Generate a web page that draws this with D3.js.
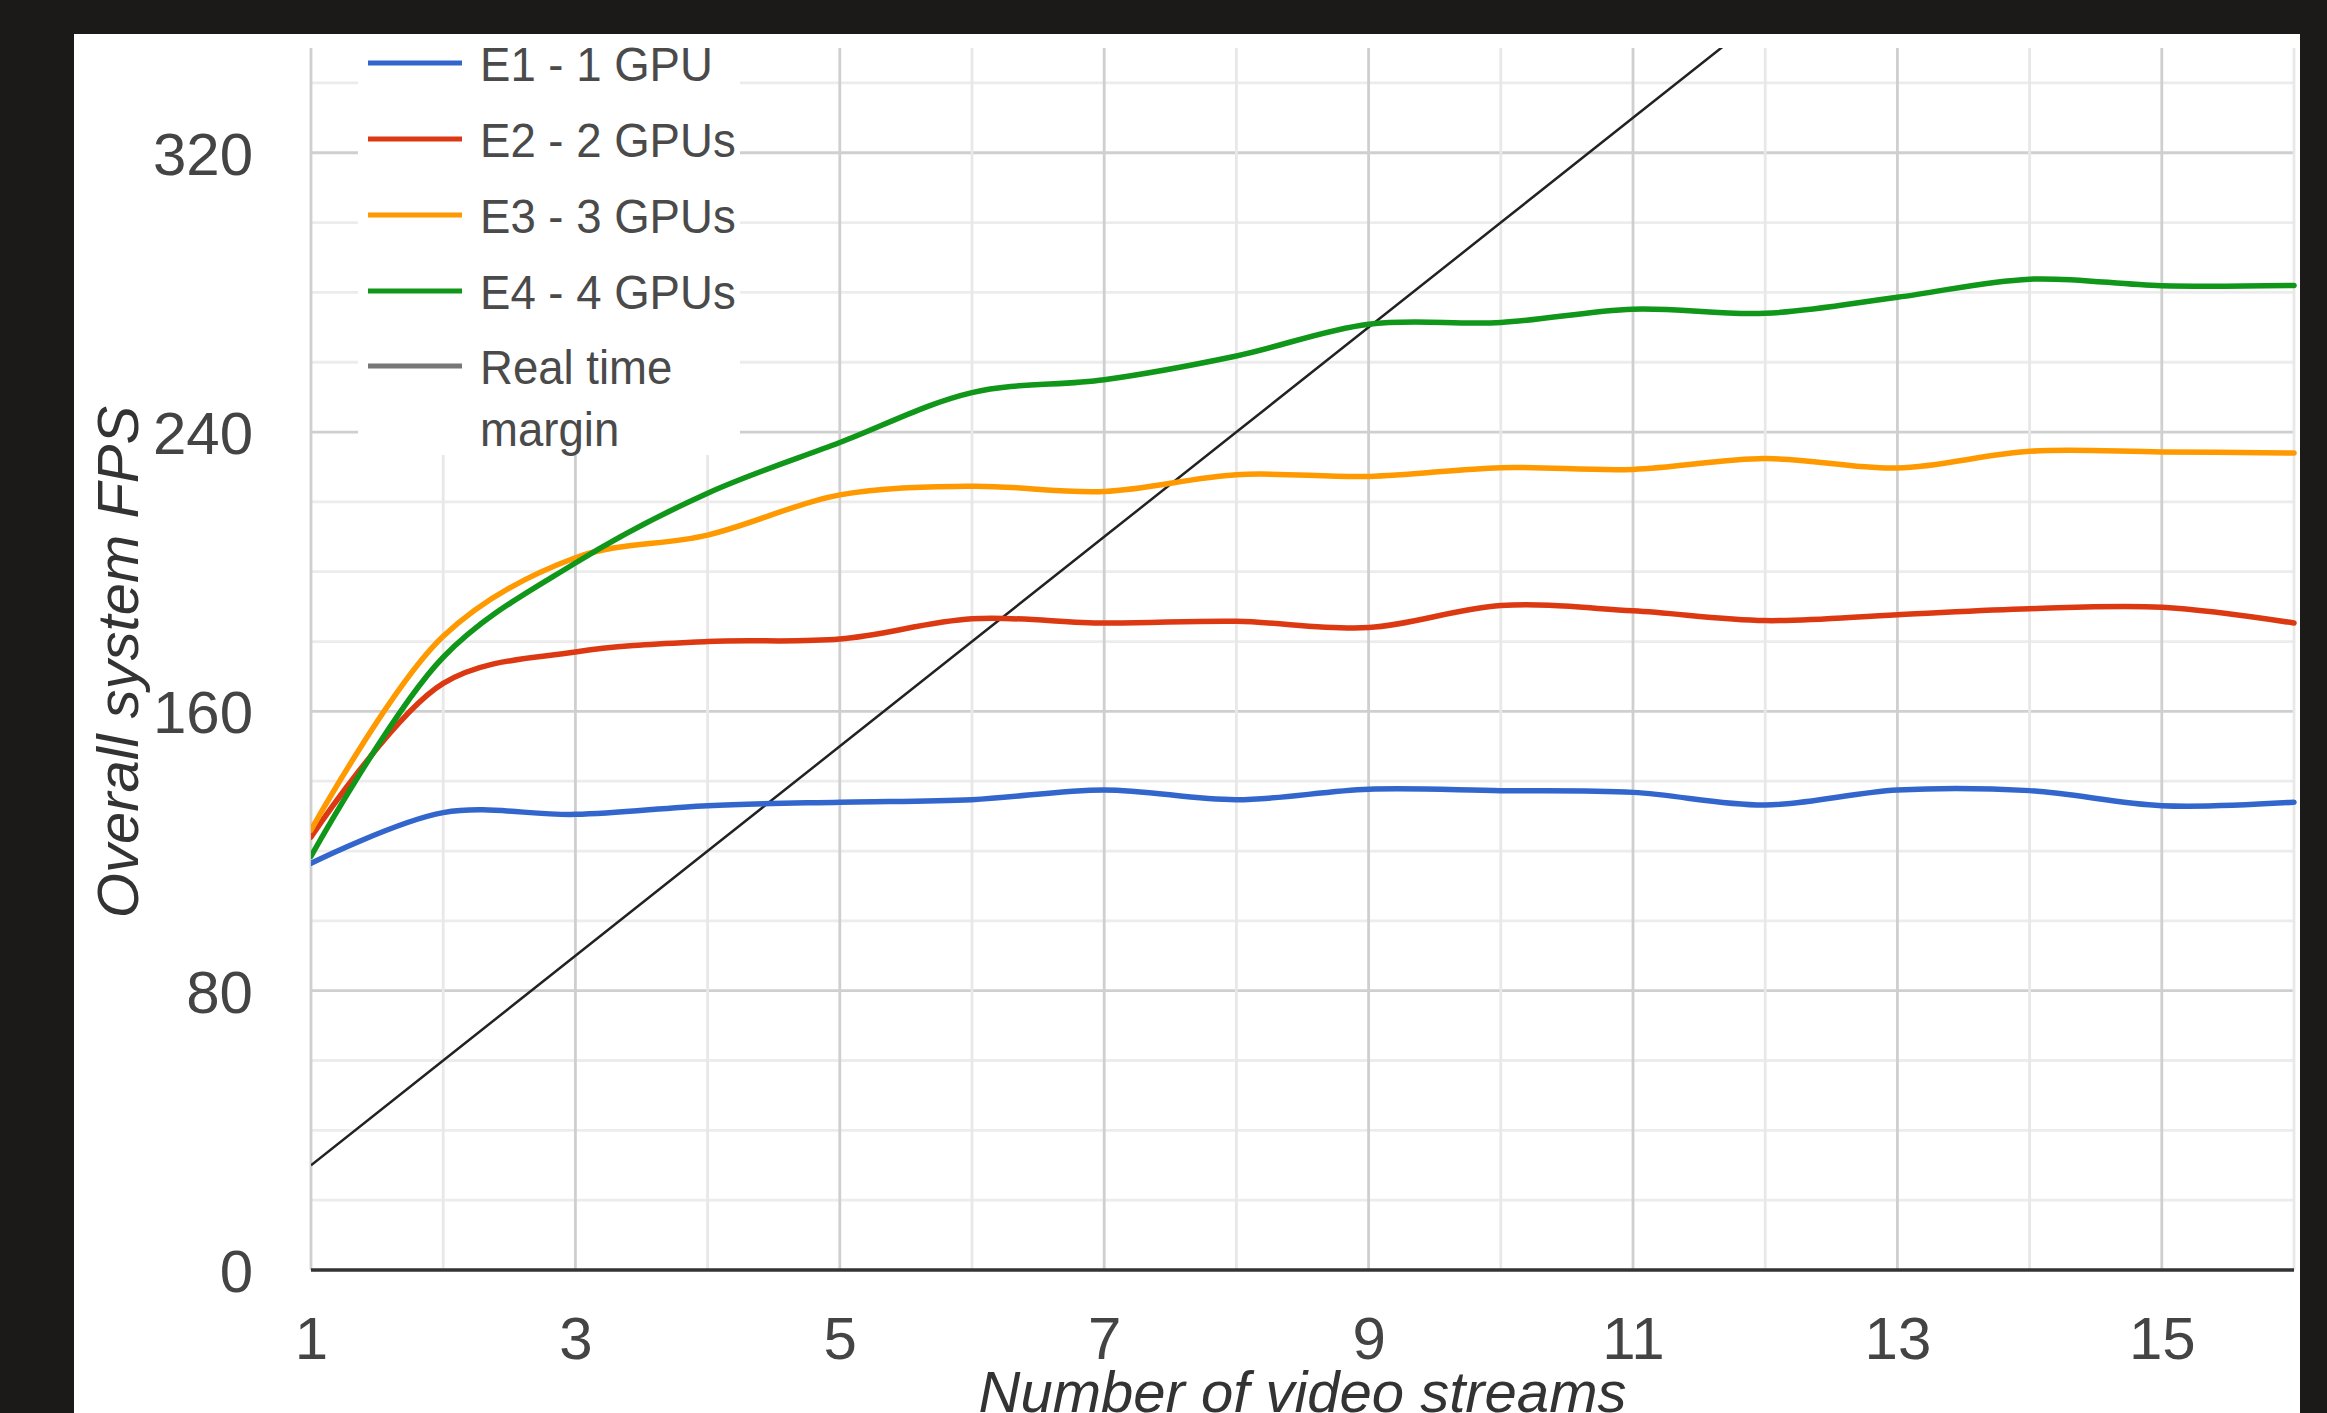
<!DOCTYPE html>
<html>
<head>
<meta charset="utf-8">
<script src="https://cdn.jsdelivr.net/npm/d3@7"></script>
<style>
  html, body { margin: 0; padding: 0; background: #1c1a19; }
  svg { display: block; }
  text { font-family: "Liberation Sans", Arial, sans-serif; }
</style>
</head>
<body>
<svg id="chart" width="2327" height="1413"></svg>
<script>
// ---- data ----
const streams = [1, 2, 3, 4, 5, 6, 7, 8, 9, 10, 11, 12, 13, 14, 15, 16];
const e1 = [116.5, 131, 130.5, 133, 134, 134.7, 137.5, 134.7, 137.7, 137.3, 136.8, 133.2, 137.5, 137.3, 133, 134];
const e2 = [124, 168, 177, 180, 180.7, 186.5, 185.3, 185.8, 184, 190.3, 188.8, 186, 187.7, 189.4, 189.8, 185.3];
const e3 = [126, 181.5, 204, 210.5, 222, 224.5, 223, 227.8, 227.3, 229.8, 229.3, 232.4, 229.7, 234.5, 234.3, 234];
const e4 = [118.5, 175.5, 202.5, 222.5, 237, 251.3, 255, 261.8, 270.9, 271.4, 275.2, 274, 278.6, 283.8, 281.9, 282];
const realTime = [30, 60, 90, 120, 150, 180, 210, 240, 270, 300, 330, 360, 390, 420, 450, 480];
const seriesNames = ["E1 - 1 GPU", "E2 - 2 GPUs", "E3 - 3 GPUs", "E4 - 4 GPUs", "Real time margin"];
const seriesColors = ["#3366cc", "#dc3912", "#ff9900", "#109618", "#222222"];
const yTickLabels = [0, 80, 160, 240, 320];
const yGridValues = [20, 40, 60, 80, 100, 120, 140, 160, 180, 200, 220, 240, 260, 280, 300, 320, 340];
const xTickLabels = [1, 3, 5, 7, 9, 11, 13, 15];
const xGridValues = [2, 3, 4, 5, 6, 7, 8, 9, 10, 11, 12, 13, 14, 15, 16];
const xTitle = "Number of video streams";
const yTitle = "Overall system FPS";

// ---- layout ----
const svg = d3.select("#chart");
const pLeft = 311, pRight = 2294, pTop = 48, pBottom = 1270;
const x = d3.scaleLinear().domain([1, 16]).range([pLeft, pRight]);
const y = d3.scaleLinear().domain([0, 350]).range([pBottom, pTop]);

// white panel
svg.append("rect").attr("x", 74).attr("y", 34).attr("width", 2226).attr("height", 1379).attr("fill", "#ffffff");

// gridlines
const grid = svg.append("g");
grid.selectAll("line.hg").data(yGridValues).join("line")
  .attr("x1", pLeft).attr("x2", pRight)
  .attr("y1", d => y(d)).attr("y2", d => y(d))
  .attr("stroke", d => d % 80 === 0 ? "#cfcfcf" : "#ececec")
  .attr("stroke-width", 2.8);
grid.selectAll("line.vg").data(xGridValues).join("line")
  .attr("x1", d => x(d)).attr("x2", d => x(d))
  .attr("y1", pTop).attr("y2", pBottom)
  .attr("stroke", d => d % 2 === 1 ? "#cfcfcf" : "#e8e8e8")
  .attr("stroke-width", 2.8);
grid.append("line").attr("x1", x(1)).attr("x2", x(1)).attr("y1", pTop).attr("y2", pBottom)
  .attr("stroke", "#cfcfcf").attr("stroke-width", 2.8);

// legend background (covers gridlines)
svg.append("rect").attr("x", 358).attr("y", pTop).attr("width", 382).attr("height", 407).attr("fill", "#ffffff");

// axes labels via d3 axes
const yAxis = svg.append("g").attr("transform", `translate(${pLeft},0)`)
  .call(d3.axisLeft(y).tickValues(yTickLabels).tickSize(0).tickPadding(58));
yAxis.select(".domain").remove();
yAxis.selectAll("text").attr("font-size", 60).attr("fill", "#444")
  .attr("font-family", "'Liberation Sans', Arial, sans-serif").attr("dy", "0.36em");

const xAxis = svg.append("g").attr("transform", `translate(0,${pBottom})`)
  .call(d3.axisBottom(x).tickValues(xTickLabels).tickSize(0).tickPadding(46));
xAxis.select(".domain").remove();
xAxis.selectAll("text").attr("font-size", 60).attr("fill", "#444")
  .attr("font-family", "'Liberation Sans', Arial, sans-serif");

// baseline
svg.append("line").attr("x1", pLeft).attr("x2", pRight).attr("y1", y(0)).attr("y2", y(0))
  .attr("stroke", "#333").attr("stroke-width", 3.5);

// clip
svg.append("clipPath").attr("id", "plotclip").append("rect")
  .attr("x", pLeft).attr("y", pTop).attr("width", pRight - pLeft + 3).attr("height", pBottom - pTop);

const line = d3.line().x((d, i) => x(streams[i])).y(d => y(d)).curve(d3.curveCatmullRom.alpha(0.5));
const straight = d3.line().x((d, i) => x(streams[i])).y(d => y(d));

const plot = svg.append("g").attr("clip-path", "url(#plotclip)");
plot.append("path").datum(realTime).attr("d", straight).attr("fill", "none")
  .attr("stroke", seriesColors[4]).attr("stroke-width", 2.5);
[e1, e2, e3, e4].forEach((s, k) => {
  plot.append("path").datum(s).attr("d", line).attr("fill", "none")
    .attr("stroke", seriesColors[k]).attr("stroke-width", 5.5)
    .attr("stroke-linejoin", "round").attr("stroke-linecap", "round");
});

// legend
const legendY = [63, 139, 215, 291, 366];
const lg = svg.append("g");
seriesNames.forEach((name, i) => {
  lg.append("line").attr("x1", 368).attr("x2", 462).attr("y1", legendY[i]).attr("y2", legendY[i])
    .attr("stroke", i === 4 ? "#777" : seriesColors[i]).attr("stroke-width", 5);
  const t = lg.append("text").attr("transform", `translate(480,${legendY[i] + 18}) scale(0.93,1)`)
    .attr("font-size", 49).attr("fill", "#4a4a4a");
  if (i === 4) {
    t.append("tspan").attr("x", 0).text("Real time");
    t.append("tspan").attr("x", 0).attr("dy", 62).text("margin");
  } else {
    t.text(name);
  }
});

// axis titles
svg.append("text").attr("x", (pLeft + pRight) / 2).attr("y", 1412)
  .attr("text-anchor", "middle").attr("font-size", 58).attr("font-style", "italic")
  .attr("fill", "#333").text(xTitle);
svg.append("text").attr("transform", `translate(138,662) rotate(-90)`)
  .attr("text-anchor", "middle").attr("font-size", 58).attr("font-style", "italic")
  .attr("fill", "#333").text(yTitle);
</script>
</body>
</html>
